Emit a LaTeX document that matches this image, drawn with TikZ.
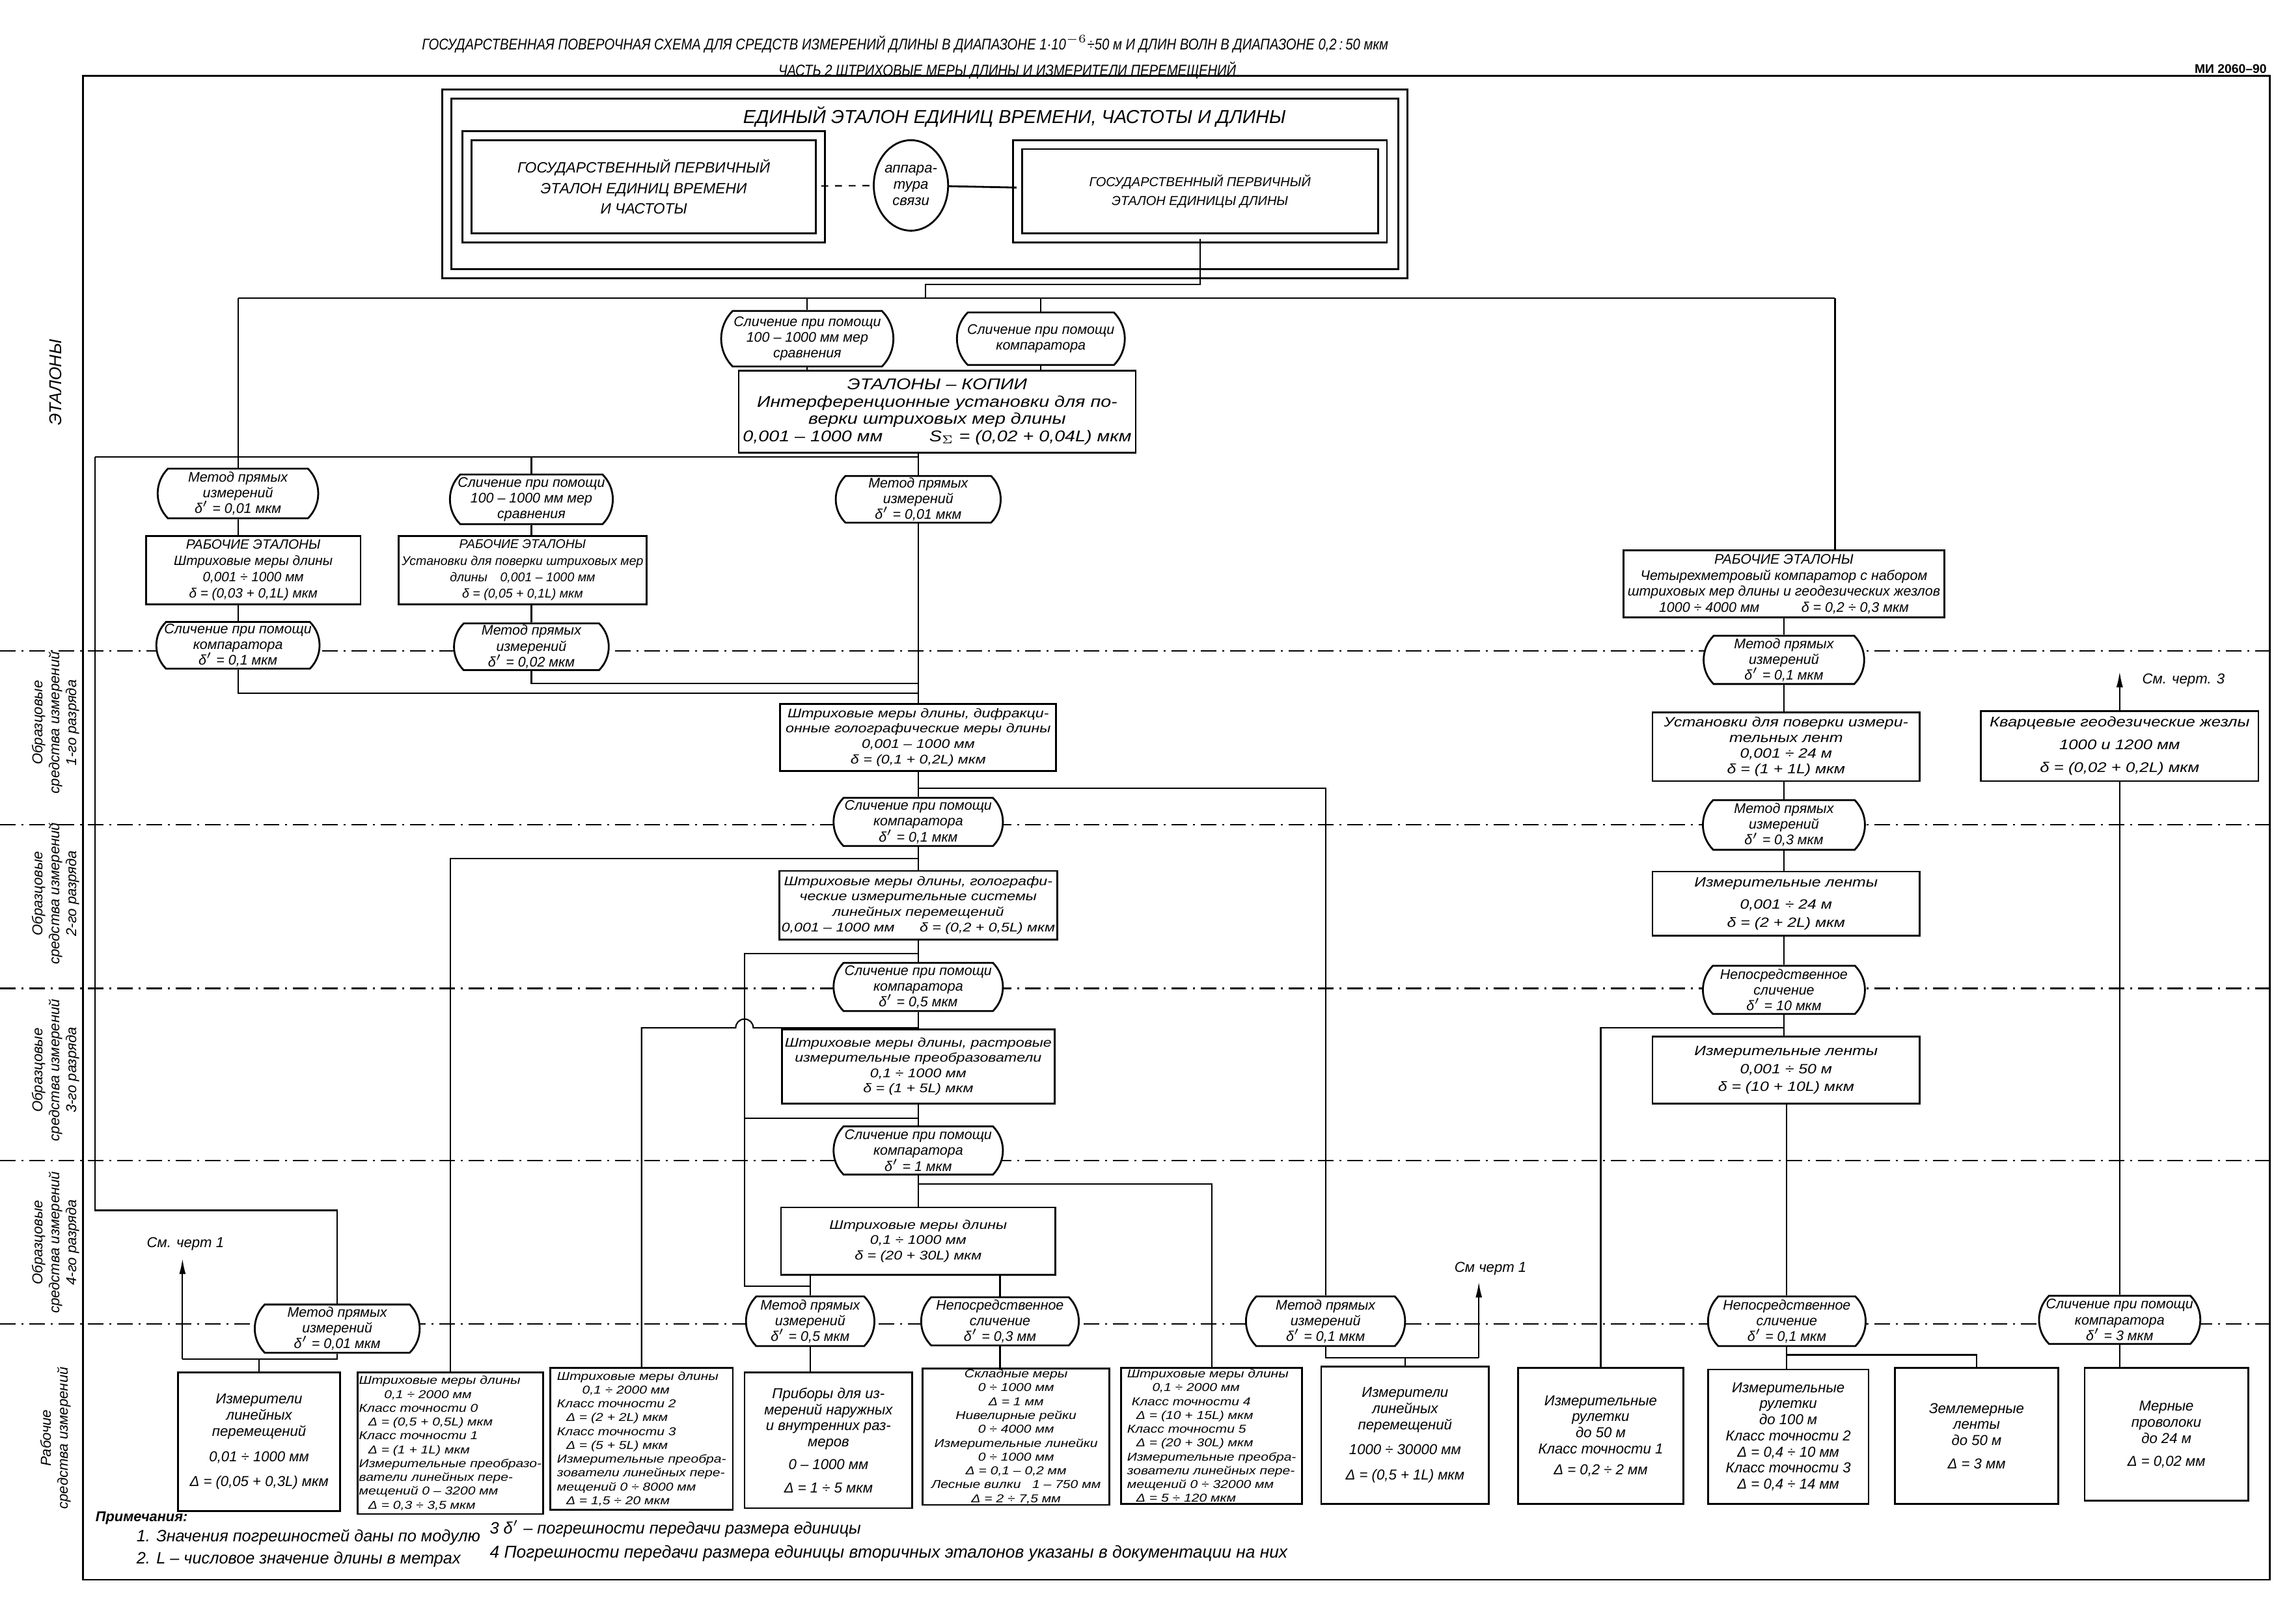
\documentclass[tikz,border=0pt]{standalone}
\usepackage{fontspec}
\setmainfont{Liberation Sans}
\newfontfamily\widefont{Liberation Sans}[FakeStretch=1.2]
\newfontfamily\narrowfont{Liberation Sans}[FakeStretch=0.85]
\usetikzlibrary{shapes.misc,shapes.geometric,arrows.meta}

\tikzset{
  box/.style={draw, thick, fill=white, align=center, inner sep=1pt,
    font=\widefont\fontsize{5.9}{6.8}\selectfont\itshape},
  midbox/.style={box, font=\widefont\fontsize{5.5}{6.7}\selectfont\itshape},
  wbox/.style={box, inner sep=0.5pt, font=\fontsize{6.3}{7.05}\selectfont\itshape},
  tbox/.style={wbox, font=\widefont\fontsize{5}{6.05}\selectfont\itshape},
  ovl/.style={draw, thick, fill=white, rounded rectangle,
    rounded rectangle arc length=90, align=center, inner sep=0pt,
    font=\fontsize{6.1}{6.9}\selectfont\itshape},
  dbl/.style={draw, thick, double, double distance=1.1mm, fill=white,
    align=center, font=\fontsize{6.5}{9}\selectfont\itshape},
  sz/.style 2 args={minimum width=#1*0.2243mm, minimum height=#2*0.2243mm},
  sep/.style={semithick, dash pattern=on 2.4mm off 0.9mm on 0.3mm off 0.9mm},
  lnk/.style={semithick},
  seeref/.style={semithick, -{Latex[length=2.4mm,width=1mm]}},
  zone/.style={rotate=90, align=center, font=\fontsize{6.3}{7.4}\selectfont\itshape},
  note/.style={anchor=west, font=\fontsize{7.2}{8}\selectfont\itshape},
  lbl/.style={font=\fontsize{6.3}{7}\selectfont\itshape},
}

\begin{document}
\begin{tikzpicture}[x=0.2243mm, y=-0.2243mm]
\useasboundingbox[fill=white] (0,0) rectangle (1568,1112);

% заголовок
\node[font=\narrowfont\fontsize{6.8}{7.6}\selectfont\itshape] (title1) at (620,30)
  {ГОСУДАРСТВЕННАЯ ПОВЕРОЧНАЯ СХЕМА ДЛЯ СРЕДСТВ ИЗМЕРЕНИЙ ДЛИНЫ В ДИАПАЗОНЕ 1·10$^{-6}$÷50 м И ДЛИН ВОЛН В ДИАПАЗОНЕ 0,2\,:\,50 мкм};
\node[font=\narrowfont\fontsize{6.8}{7.6}\selectfont\itshape] (title2) at (690,48)
  {ЧАСТЬ 2 ШТРИХОВЫЕ МЕРЫ ДЛИНЫ И ИЗМЕРИТЕЛИ ПЕРЕМЕЩЕНИЙ};
\node[font=\fontsize{5.5}{6.2}\selectfont\bfseries] (doc) at (1528,47) {МИ 2060–90};

% рамка и разделители
\draw[thick] (57,52) rectangle (1555,1082);
\foreach \y in {446,565,677,795,907}
  \draw[sep] (0,\y) -- (1555,\y);

% зоны
\node[zone, font=\fontsize{7.5}{8.4}\selectfont\itshape] (zE) at (38,262) {ЭТАЛОНЫ};
\node[zone] (z1) at (38,495) {Образцовые\\средства измерений\\1-го разряда};
\node[zone] (z2) at (38,612) {Образцовые\\средства измерений\\2-го разряда};
\node[zone] (z3) at (38,733) {Образцовые\\средства измерений\\3-го разряда};
\node[zone] (z4) at (38,851) {Образцовые\\средства измерений\\4-го разряда};
\node[zone] (zR) at (38,985) {Рабочие\\средства измерений};

% единый эталон
\node[dbl, sz={655}{123}] (uni) at (633.5,126) {};
\node[font=\fontsize{8.2}{9.2}\selectfont\itshape] (uniT) at (695,80)
  {ЕДИНЫЙ ЭТАЛОН ЕДИНИЦ ВРЕМЕНИ, ЧАСТОТЫ И ДЛИНЫ};
\node[dbl, sz={242}{70}] (etV) at (441,128)
  {ГОСУДАРСТВЕННЫЙ ПЕРВИЧНЫЙ\\ЭТАЛОН ЕДИНИЦ ВРЕМЕНИ\\И ЧАСТОТЫ};
\node[draw, thick, fill=white, ellipse, sz={46}{62}, inner sep=0pt, align=center,
  font=\fontsize{6.3}{7.1}\selectfont\itshape] (app) at (624,127) {аппара-\\тура\\связи};
\node[dbl, sz={250}{64}, font=\fontsize{5.7}{8.3}\selectfont\itshape] (etL) at (822,131)
  {ГОСУДАРСТВЕННЫЙ ПЕРВИЧНЫЙ\\ЭТАЛОН ЕДИНИЦЫ ДЛИНЫ};

% эталоны-копии и рабочие эталоны
\node[ovl, sz={118}{38}] (cmp100) at (553,232) {Сличение при помощи\\100 – 1000 мм мер\\сравнения};
\node[ovl, sz={115}{36}] (cmpK) at (713,232) {Сличение при помощи\\компаратора};
\node[box, sz={272}{56}, font=\widefont\fontsize{6.8}{7.6}\selectfont\itshape] (kopii) at (642,282)
  {ЭТАЛОНЫ – КОПИИ\\Интерференционные установки для по-\\верки штриховых мер длины\\
   0,001 – 1000 мм\hspace{3em}S$_{\Sigma}$ = (0,02 + 0,04L) мкм};
\node[ovl, sz={110}{34}] (mprA) at (163,338) {Метод прямых\\измерений\\δ$'$ = 0,01 мкм};
\node[ovl, sz={106}{34}] (cmpB) at (364,342) {Сличение при помощи\\100 – 1000 мм мер\\сравнения};
\node[ovl, sz={113}{32}] (mprC) at (629,342) {Метод прямых\\измерений\\δ$'$ = 0,01 мкм};
\node[box, sz={147}{47}, font=\fontsize{5.9}{7.2}\selectfont\itshape] (rabA) at (173.5,390.5)
  {РАБОЧИЕ ЭТАЛОНЫ\\Штриховые меры длины\\0,001 ÷ 1000 мм\\δ = (0,03 + 0,1L) мкм};
\node[box, sz={170}{47}, font=\fontsize{5.55}{7.2}\selectfont\itshape] (rabB) at (358,390.5)
  {РАБОЧИЕ ЭТАЛОНЫ\\Установки для поверки штриховых мер\\длины\quad 0,001 – 1000 мм\\δ = (0,05 + 0,1L) мкм};
\node[box, sz={220}{46}, font=\fontsize{6.1}{7}\selectfont\itshape] (rabC) at (1222,400)
  {РАБОЧИЕ ЭТАЛОНЫ\\Четырехметровый компаратор с набором\\штриховых мер длины и геодезических жезлов\\
   1000 ÷ 4000 мм\hspace{3em}δ = 0,2 ÷ 0,3 мкм};
\node[ovl, sz={110}{32}] (cmpD) at (163,442) {Сличение при помощи\\компаратора\\δ$'$ = 0,1 мкм};
\node[ovl, sz={106}{32}] (mprE) at (364,443) {Метод прямых\\измерений\\δ$'$ = 0,02 мкм};
\node[ovl, sz={110}{33}] (mprF) at (1222,452) {Метод прямых\\измерений\\δ$'$ = 0,1 мкм};

% образцовые средства
\node[midbox, sz={189}{46}] (r1) at (629,505)
  {Штриховые меры длины, дифракци-\\онные голографические меры длины\\0,001 – 1000 мм\\δ = (0,1 + 0,2L) мкм};
\node[box, sz={183}{47}] (ustR) at (1223.5,511.5)
  {Установки для поверки измери-\\тельных лент\\0,001 ÷ 24 м\\δ = (1 + 1L) мкм};
\node[box, sz={190}{48}, font=\widefont\fontsize{6.1}{7}\selectfont\itshape] (kvarc) at (1452,511)
  {Кварцевые геодезические жезлы\\[3pt]1000 и 1200 мм\\[3pt]δ = (0,02 + 0,2L) мкм};
\node[ovl, sz={116}{33}] (cmpG) at (629,563) {Сличение при помощи\\компаратора\\δ$'$ = 0,1 мкм};
\node[ovl, sz={111}{34}] (mprH) at (1222,565) {Метод прямых\\измерений\\δ$'$ = 0,3 мкм};
\node[midbox, sz={189}{47}] (r2) at (629,620)
  {Штриховые меры длины, голографи-\\ческие измерительные системы\\линейных перемещений\\
   0,001 – 1000 мм\hspace{2em}δ = (0,2 + 0,5L) мкм};
\node[box, sz={183}{44}] (lentA) at (1223.5,619)
  {Измерительные ленты\\[3pt]0,001 ÷ 24 м\\[1pt]δ = (2 + 2L) мкм};
\node[ovl, sz={116}{33}] (cmpI) at (629,676) {Сличение при помощи\\компаратора\\δ$'$ = 0,5 мкм};
\node[ovl, sz={111}{33}] (nepJ) at (1222,678) {Непосредственное\\сличение\\δ$'$ = 10 мкм};
\node[midbox, sz={187}{51}] (r3) at (629,730.5)
  {Штриховые меры длины, растровые\\измерительные преобразователи\\0,1 ÷ 1000 мм\\δ = (1 + 5L) мкм};
\node[box, sz={183}{46}] (lentB) at (1223.5,733)
  {Измерительные ленты\\[1pt]0,001 ÷ 50 м\\[1pt]δ = (10 + 10L) мкм};
\node[ovl, sz={116}{33}] (cmpK2) at (629,788) {Сличение при помощи\\компаратора\\δ$'$ = 1 мкм};
\node[midbox, sz={188}{46}] (r4) at (629,850)
  {Штриховые меры длины\\0,1 ÷ 1000 мм\\δ = (20 + 30L) мкм};

% методы передачи рабочим средствам
\node[ovl, sz={113}{33}] (mprL) at (231,910) {Метод прямых\\измерений\\δ$'$ = 0,01 мкм};
\node[ovl, sz={88}{34}] (mprM) at (555,905) {Метод прямых\\измерений\\δ$'$ = 0,5 мкм};
\node[ovl, sz={108}{33}] (nepN) at (685,905) {Непосредственное\\сличение\\δ$'$ = 0,3 мм};
\node[ovl, sz={109}{34}] (mprO) at (908,905) {Метод прямых\\измерений\\δ$'$ = 0,1 мкм};
\node[ovl, sz={108}{34}] (nepP) at (1224,905) {Непосредственное\\сличение\\δ$'$ = 0,1 мкм};
\node[ovl, sz={105}{33}] (cmpQ) at (1452,904) {Сличение при помощи\\компаратора\\δ$'$ = 3 мкм};

% рабочие средства измерений
\node[wbox, sz={111}{95}] (w1) at (177.5,987.5)
  {Измерители\\линейных\\перемещений\\[4pt]0,01 ÷ 1000 мм\\[4pt]Δ = (0,05 + 0,3L) мкм};
\node[tbox, sz={127}{97}, align=left] (w2) at (308.5,988.5)
  {Штриховые меры длины\\\hspace*{2.2em}0,1 ÷ 2000 мм\\Класс точности 0\\\hspace*{0.8em}Δ = (0,5 + 0,5L) мкм\\
   Класс точности 1\\\hspace*{0.8em}Δ = (1 + 1L) мкм\\Измерительные преобразо-\\ватели линейных пере-\\
   мещений 0 – 3200 мм\\\hspace*{0.8em}Δ = 0,3 ÷ 3,5 мкм};
\node[tbox, sz={125}{97}, align=left] (w3) at (439.5,985.5)
  {Штриховые меры длины\\\hspace*{2.2em}0,1 ÷ 2000 мм\\Класс точности 2\\\hspace*{0.8em}Δ = (2 + 2L) мкм\\
   Класс точности 3\\\hspace*{0.8em}Δ = (5 + 5L) мкм\\Измерительные преобра-\\зователи линейных пере-\\
   мещений 0 ÷ 8000 мм\\\hspace*{0.8em}Δ = 1,5 ÷ 20 мкм};
\node[wbox, sz={115}{93}] (w4) at (567.5,986.5)
  {Приборы для из-\\мерений наружных\\и внутренних раз-\\меров\\[3pt]0 – 1000 мм\\[3pt]Δ = 1 ÷ 5 мкм};
\node[tbox, sz={128}{92}] (w5) at (696,984)
  {Складные меры\\0 ÷ 1000 мм\\Δ = 1 мм\\Нивелирные рейки\\0 ÷ 4000 мм\\Измерительные линейки\\
   0 ÷ 1000 мм\\Δ = 0,1 – 0,2 мм\\Лесные вилки\quad 1 – 750 мм\\Δ = 2 ÷ 7,5 мм};
\node[tbox, sz={124}{93}, align=left] (w6) at (830,983.5)
  {Штриховые меры длины\\\hspace*{2.2em}0,1 ÷ 2000 мм\\\hspace*{0.4em}Класс точности 4\\\hspace*{0.8em}Δ = (10 + 15L) мкм\\
   Класс точности 5\\\hspace*{0.8em}Δ = (20 + 30L) мкм\\Измерительные преобра-\\зователи линейных пере-\\
   мещений 0 ÷ 32000 мм\\\hspace*{0.8em}Δ = 5 ÷ 120 мкм};
\node[wbox, sz={115}{94}] (w7) at (962.5,983)
  {Измерители\\линейных\\перемещений\\[4pt]1000 ÷ 30000 мм\\[4pt]Δ = (0,5 + 1L) мкм};
\node[wbox, sz={113}{93}] (w8) at (1096.5,983.5)
  {Измерительные\\рулетки\\до 50 м\\Класс точности 1\\[2pt]Δ = 0,2 ÷ 2 мм};
\node[wbox, sz={110}{92}] (w9) at (1225,984)
  {Измерительные\\рулетки\\до 100 м\\Класс точности 2\\Δ = 0,4 ÷ 10 мм\\Класс точности 3\\Δ = 0,4 ÷ 14 мм};
\node[wbox, sz={112}{93}] (w10) at (1354,983.5)
  {Землемерные\\ленты\\до 50 м\\[3pt]Δ = 3 мм};
\node[wbox, sz={112}{91}] (w11) at (1484,982.5)
  {Мерные\\проволоки\\до 24 м\\[3pt]Δ = 0,02 мм};

% связи: эталоны
\coordinate (k1) at (634,195);
\coordinate (bA) at (163,204);
\coordinate (bB) at (1257,204);
\coordinate (cA) at (65,313);
\draw[lnk, dashed] (etV) -- (app);
\draw[thick] (app) -- (etL);
\draw[lnk] (etL.south) |- (k1) -- (bA -| k1);
\draw[lnk] (bA) -- (bB);
\draw[lnk] (bB) -- (rabC.north -| bB);
\draw[lnk] (cmp100.north |- bA) -- (cmp100.north);
\draw[lnk] (cmpK.north |- bA) -- (cmpK.north);
\draw[lnk] (cmp100.south) -- (cmp100.south |- kopii.north);
\draw[lnk] (cmpK.south) -- (cmpK.south |- kopii.north);
\draw[lnk] (bA) -- (bA |- cA);
\draw[lnk] (kopii.south -| mprC) -- (mprC.north);
\draw[lnk] (cA) -- (cA -| mprC);
\draw[lnk] (mprA.north |- cA) -- (mprA.north);
\draw[lnk] (cmpB.north |- cA) -- (cmpB.north);
\draw[lnk] (mprA.south) -- (mprA.south |- rabA.north);
\draw[lnk] (rabA.south -| cmpD) -- (cmpD.north);
\draw[lnk] (cmpB.south) -- (cmpB.south |- rabB.north);
\draw[lnk] (rabB.south -| mprE) -- (mprE.north);
\draw[lnk] (mprC.south) -- (r1.north);

% связи: к образцовым 1-го разряда
\coordinate (t1) at (629,475);
\coordinate (t2) at (629,468);
\draw[lnk] (cmpD.south) |- (t1);
\draw[lnk] (mprE.south) |- (t2);

% связи: центральная ветвь
\coordinate (j1) at (629,540);
\coordinate (j2) at (629,588);
\coordinate (j3) at (629,653);
\coordinate (j4) at (629,704);
\coordinate (j5) at (629,766);
\coordinate (j6) at (629,811);
\coordinate (x5) at (510,653);
\coordinate (jm) at (555,881);
\draw[lnk] (r1.south) -- (cmpG.north);
\draw[lnk] (cmpG.south) -- (r2.north);
\draw[lnk] (r2.south) -- (cmpI.north);
\draw[lnk] (cmpI.south) -- (r3.north);
\draw[lnk] (r3.south) -- (cmpK2.north);
\draw[lnk] (cmpK2.south) -- (r4.north);
\draw[lnk] (j1) -| (mprO.north);
\draw[lnk] (j2) -| (w2.north);
\draw[lnk] (j3) -- (x5) |- (jm);
\draw[lnk] (j5) -- (j5 -| x5);
\draw[lnk] (j4) -- (516,704) arc[start angle=0, end angle=180, radius=1.35mm] -| (w3.north);
\draw[lnk] (j6) -| (w6.north);
\draw[lnk] (r4.south -| mprM) -- (mprM.north);
\draw[lnk] (r4.south -| nepN) -- (nepN.north);
\draw[lnk] (mprM.south) -- (mprM.south |- w4.north);
\draw[lnk] (nepN.south) -- (nepN.south |- w5.north);

% связи: левая ветвь
\coordinate (dA) at (65,829);
\coordinate (eL) at (125,931);
\coordinate (seeAt) at (125,862);
\draw[lnk] (cA) -- (dA) -| (mprL.north);
\draw[lnk] (mprL.south) |- (eL);
\draw[seeref] (eL) -- (seeAt);
\node[lbl] (seeA) at (127,852) {См. черт 1};
\draw[lnk] (w1.north) -- (w1.north |- eL);

% связи: измерители перемещений
\coordinate (eM) at (1013,930);
\coordinate (seeBt) at (1013,878);
\draw[lnk] (mprO.south) |- (eM);
\draw[seeref] (eM) -- (seeBt);
\node[lbl] (seeB) at (1021,869) {См черт 1};
\draw[lnk] (w7.north) -- (w7.north |- eM);

% связи: правая ветвь
\coordinate (j7) at (1222,704);
\coordinate (j8) at (1224,928);
\coordinate (seeCt) at (1452,460);
\draw[lnk] (rabC.south -| mprF) -- (mprF.north);
\draw[lnk] (mprF.south) -- (ustR.north -| mprF);
\draw[lnk] (ustR.south -| mprH) -- (mprH.north);
\draw[lnk] (mprH.south) -- (lentA.north -| mprH);
\draw[lnk] (lentA.south -| nepJ) -- (nepJ.north);
\draw[lnk] (nepJ.south) -- (lentB.north -| nepJ);
\draw[lnk] (j7) -| (w8.north);
\draw[lnk] (lentB.south -| nepP) -- (nepP.north);
\draw[lnk] (nepP.south) -- (w9.north -| nepP);
\draw[lnk] (j8) -| (w10.north);
\draw[seeref] (kvarc.north) -- (seeCt);
\node[lbl, anchor=west] (seeC) at (1462,466) {См. черт. 3};
\draw[lnk] (kvarc.south) -- (cmpQ.north);
\draw[lnk] (cmpQ.south) -- (cmpQ.south |- w11.north);

% примечания
\node[note, font=\fontsize{6.2}{7}\selectfont\itshape\bfseries] (nt0) at (60,1040) {Примечания:};
\node[note] (nt1) at (88,1053) {1. Значения погрешностей даны по модулю};
\node[note] (nt2) at (88,1068) {2. L – числовое значение длины в метрах};
\node[note] (nt3) at (330,1047) {3 δ$'$ – погрешности передачи размера единицы};
\node[note, font=\fontsize{7.5}{8.4}\selectfont\itshape] (nt4) at (330,1064) {4 Погрешности передачи размера единицы вторичных эталонов указаны в документации на них};
\end{tikzpicture}
\end{document}
